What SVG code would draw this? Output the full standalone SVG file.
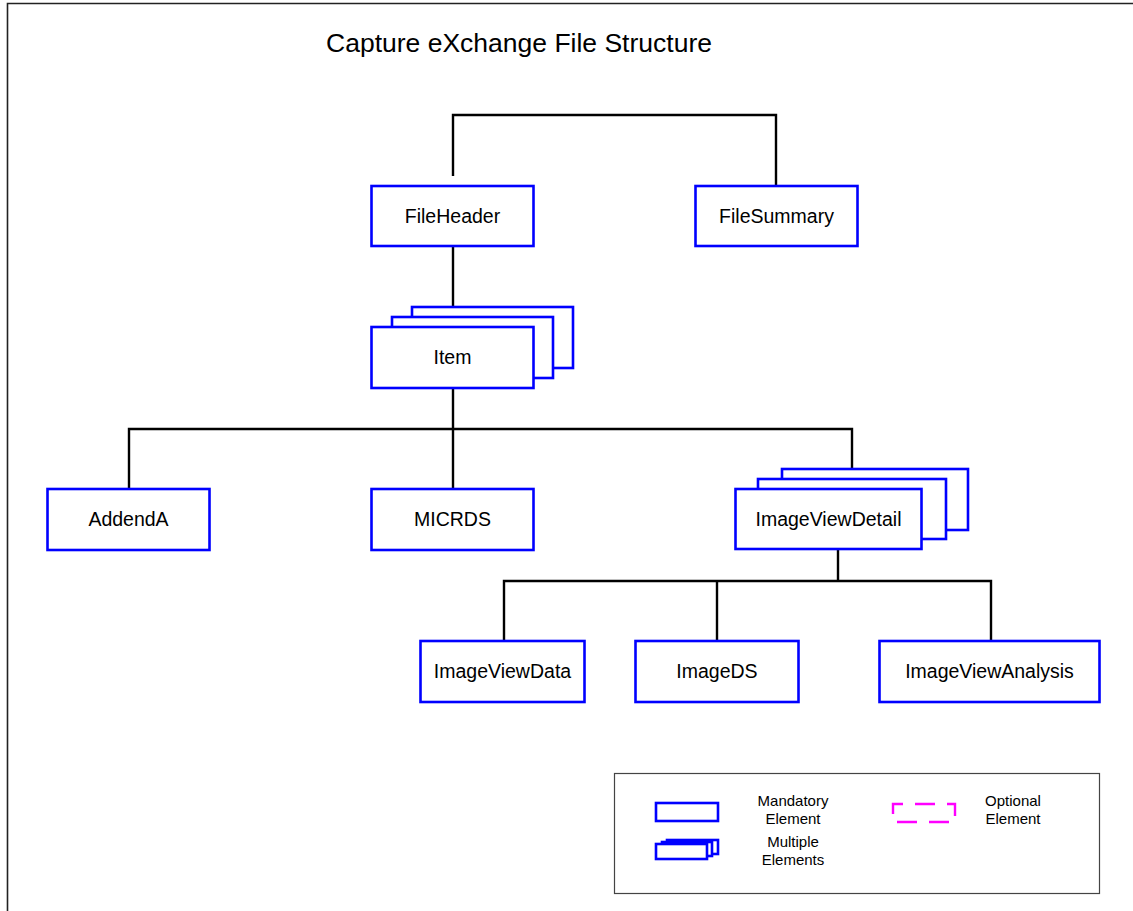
<svg xmlns="http://www.w3.org/2000/svg" width="1133" height="911" viewBox="0 0 1133 911">
<style>
.box{fill:#fff;stroke:#0000ff;stroke-width:2.6}
.lbl{font-family:"Liberation Sans",Arial,sans-serif;font-size:19.5px;fill:#000;text-anchor:middle}
.leg{font-family:"Liberation Sans",Arial,sans-serif;font-size:15px;fill:#000;text-anchor:middle}
.con{fill:none;stroke:#000;stroke-width:2.4}
</style>
<rect x="0" y="0" width="1133" height="911" fill="#fff"/>
<g id="frame" fill="none" stroke="#222" stroke-width="1.6">
<path d="M7.5 911 V3.5 H1133"/>
</g>
<text x="519" y="52" font-family="'Liberation Sans',Arial,sans-serif" font-size="26.5" text-anchor="middle" fill="#000">Capture eXchange File Structure</text>
<g id="connectors">
<path class="con" d="M453 176 V115 H776 V186"/>
<path class="con" d="M453 246 V307"/>
<path class="con" d="M453 388 V429"/>
<path class="con" d="M129 489 V429 H852 V469"/>
<path class="con" d="M453 429 V489"/>
<path class="con" d="M838 549 V581"/>
<path class="con" d="M504 641 V581 H991 V641"/>
<path class="con" d="M717 581 V641"/>
</g>
<g id="FileHeader"><rect class="box" x="371.5" y="186" width="162" height="60"/><text class="lbl" x="452.5" y="223">FileHeader</text></g>
<g id="FileSummary"><rect class="box" x="695.5" y="186" width="162" height="60"/><text class="lbl" x="776.5" y="223">FileSummary</text></g>
<g id="Item">
<rect class="box" x="412" y="307" width="161" height="61"/>
<rect class="box" x="392" y="317" width="161" height="61"/>
<rect class="box" x="371.5" y="327" width="162" height="61"/>
<text class="lbl" x="452.5" y="364">Item</text>
</g>
<g id="AddendA"><rect class="box" x="47.5" y="489" width="162" height="61"/><text class="lbl" x="128.5" y="526">AddendA</text></g>
<g id="MICRDS"><rect class="box" x="371.5" y="489" width="162" height="61"/><text class="lbl" x="452.5" y="526">MICRDS</text></g>
<g id="ImageViewDetail">
<rect class="box" x="782" y="469" width="186" height="61"/>
<rect class="box" x="758" y="479" width="188" height="60"/>
<rect class="box" x="735.5" y="489" width="186" height="60"/>
<text class="lbl" x="828.5" y="526">ImageViewDetail</text>
</g>
<g id="ImageViewData"><rect class="box" x="420.5" y="641" width="164" height="61"/><text class="lbl" x="502.5" y="678">ImageViewData</text></g>
<g id="ImageDS"><rect class="box" x="635.5" y="641" width="163" height="61"/><text class="lbl" x="717" y="678">ImageDS</text></g>
<g id="ImageViewAnalysis"><rect class="box" x="879.5" y="641" width="220" height="61"/><text class="lbl" x="989.5" y="678">ImageViewAnalysis</text></g>
<g id="legend">
<rect x="614.5" y="773.5" width="485" height="120" fill="#fff" stroke="#444" stroke-width="1.2"/>
<rect class="box" x="656" y="803" width="62" height="18" stroke-width="2.4"/>
<text class="leg" x="793" y="806">Mandatory</text>
<text class="leg" x="793" y="824">Element</text>
<rect class="box" x="667" y="840" width="51" height="14" stroke-width="2.2"/>
<rect class="box" x="662" y="842" width="50" height="14" stroke-width="2.2"/>
<rect class="box" x="656" y="844" width="51" height="15" stroke-width="2.4"/>
<text class="leg" x="793" y="847">Multiple</text>
<text class="leg" x="793" y="865">Elements</text>
<rect x="893" y="804" width="62" height="18" fill="none" stroke="#ff00ff" stroke-width="2.4" stroke-dasharray="20 12" stroke-dashoffset="10"/>
<text class="leg" x="1013" y="806">Optional</text>
<text class="leg" x="1013" y="824">Element</text>
</g>
</svg>
